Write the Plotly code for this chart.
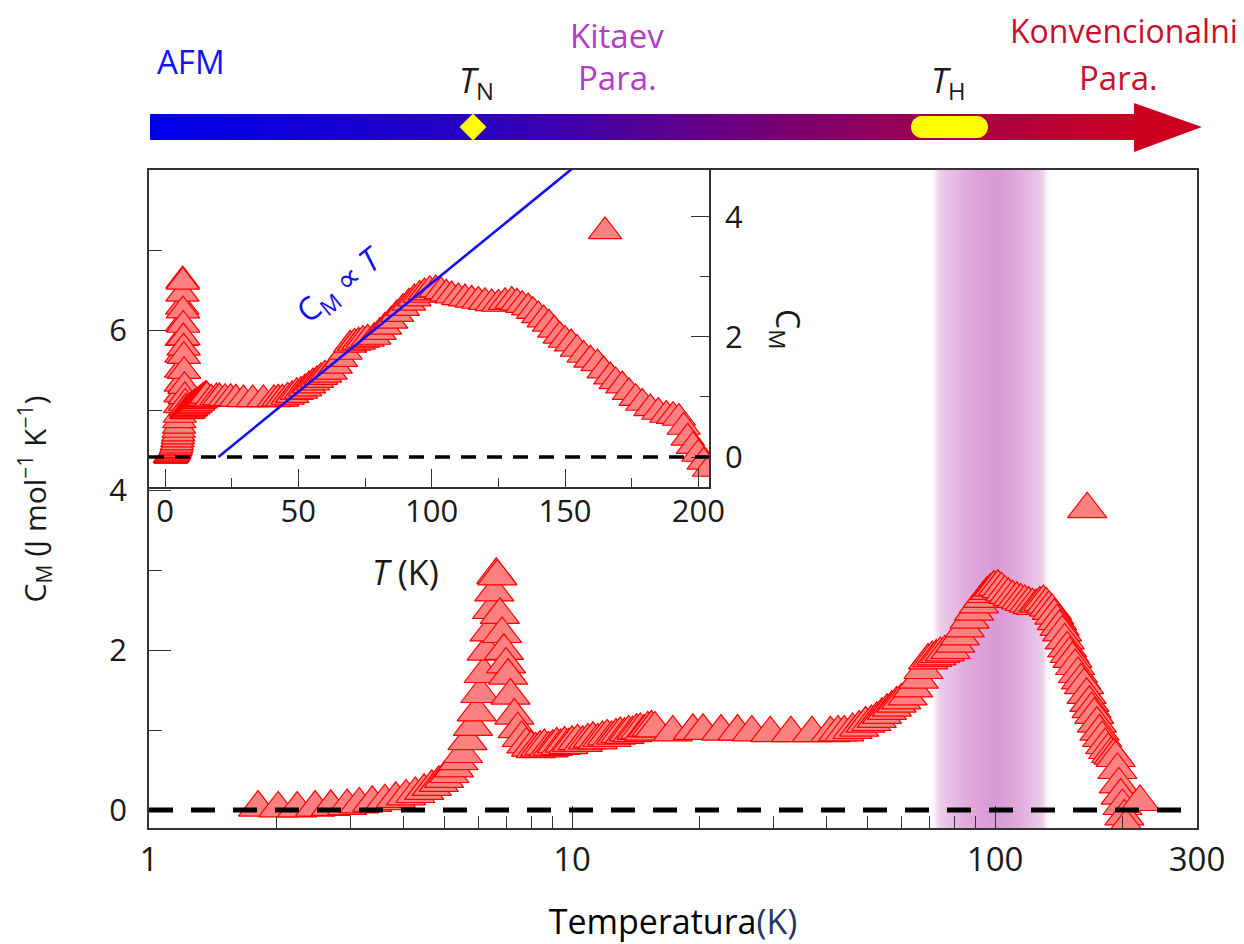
import math
import plotly.graph_objects as go

# ---------------- data ----------------
T_K = [1.81, 2.02, 2.24, 2.47, 2.69, 2.94, 3.14, 3.37, 3.61, 3.83,
       4.05, 4.26, 4.47, 4.66, 4.84, 4.98, 5.13, 5.26, 5.39, 5.52,
       5.66, 5.83, 5.95, 6.07, 6.18, 6.28, 6.38, 6.47, 6.55, 6.62, 6.66,
       6.75, 6.83, 6.90, 6.98, 7.06, 7.15, 7.30, 7.44, 7.60, 7.80, 8.00,
       8.2, 8.4, 8.6, 8.8, 9.0, 9.2, 9.4, 9.6, 9.8, 10.0,
       10.3, 10.6, 10.9, 11.2, 11.5, 11.8, 12.1, 12.4, 12.7, 13.0,
       13.3, 13.6, 13.9, 14.2, 14.5, 14.8, 15.1, 15.4, 15.7,
       17.3, 19.3, 20.4, 22.5, 24.6, 26.6, 29.4, 32.9, 36.9, 40.8,
       42.5, 44.0, 46.0, 47.7, 49.4, 51.0, 52.5, 54.0, 55.5, 57.0,
       58.5, 60.0, 62.1, 64.0, 66.0, 67.7, 69.4, 71.0, 72.6, 74.2,
       76.0, 78.5, 80.5, 82.5, 84.8, 87.0, 89.2, 91.5, 93.5, 95.5,
       97.3, 99.3, 101.5, 103.5, 105.5, 107.5, 110.0, 112.5, 115.0, 117.5,
       120.0, 122.5, 125.0, 127.5, 130.0, 132.0, 134.0, 136.2, 138.0, 140.0,
       142.0, 144.0, 146.0, 148.0, 150.0, 152.3, 154.5, 157.0, 159.5, 162.2,
       164.5, 167.0, 169.0, 171.5, 174.0, 176.5, 179.0, 182.0, 185.0, 188.0,
       190.5, 192.7, 194.5, 196.0, 198.0, 200.0, 202.0, 204.0,
       165.0, 220.0]
C_M = [0.03, 0.02, 0.02, 0.03, 0.04, 0.05, 0.07, 0.09, 0.11, 0.14,
       0.17, 0.20, 0.24, 0.29, 0.34, 0.39, 0.45, 0.52, 0.61, 0.70,
       0.86, 1.04, 1.22, 1.45, 1.70, 1.98, 2.22, 2.50, 2.72, 2.94, 2.92,
       2.44, 2.20, 1.99, 1.82, 1.68, 1.43, 1.18, 1.01, 0.90, 0.82, 0.78,
       0.76, 0.78, 0.80, 0.77, 0.79, 0.82, 0.80, 0.83, 0.81, 0.84,
       0.86, 0.84, 0.87, 0.89, 0.87, 0.90, 0.92, 0.90, 0.93, 0.95,
       0.94, 0.97, 0.96, 0.99, 1.00, 0.98, 1.02, 1.03, 1.02,
       0.97, 0.99, 0.99, 0.98, 0.98, 0.97, 0.96, 0.96, 0.96, 0.96,
       0.97, 0.97, 1.00, 1.03, 1.08, 1.10, 1.14, 1.19, 1.24, 1.28,
       1.33, 1.37, 1.42, 1.52, 1.63, 1.75, 1.87, 1.90, 1.92, 1.95,
       1.97, 2.00, 2.08, 2.17, 2.27, 2.38, 2.48, 2.57, 2.64, 2.70,
       2.74, 2.78, 2.79, 2.76, 2.72, 2.69, 2.66, 2.64, 2.62, 2.60,
       2.58, 2.56, 2.55, 2.58, 2.60, 2.57, 2.53, 2.49, 2.43, 2.36,
       2.29, 2.22, 2.12, 2.02, 1.95, 1.89, 1.80, 1.70, 1.62, 1.56,
       1.44, 1.34, 1.26, 1.19, 1.08, 0.98, 0.90, 0.81, 0.75, 0.70,
       0.68, 0.65, 0.50, 0.32, 0.18, 0.05, -0.08, -0.20,
       3.76, 0.10]
assert len(T_K) == len(C_M)

fit_T = [20.0, 160.0]          # C_M proportional to T guide line
fit_C = [0.0, 5.07]

main_xticks = [1, 10, 100, 300]
main_xminor = [2, 3, 4, 5, 6, 7, 8, 9, 20, 30, 40, 50, 60, 70, 80, 90, 200]
main_yticks = [0, 2, 4, 6]
main_yminor = [1, 3, 5, 7]
inset_xticks = [0, 50, 100, 150, 200]
inset_xminor = [25, 75, 125, 175]
inset_yticks = [0, 2, 4]
inset_yminor = [1, 3]

T_H_band = [71.0, 100.0, 134.0]   # shaded region (low edge, centre, high edge)

# ---------------- geometry helpers ----------------
# page is drawn with an 8px body margin, so the figure is 8px smaller
OFF = 8
W, H = 1244 - OFF, 944 - OFF
L, R, TOP, BOT = 149, 1197, 170, 828   # plot area in page pixels
XMAX = math.log10(300)


def px(x):
    return (x - L) / (R - L)


def py(y):
    return (BOT - y) / (BOT - TOP)


FONT = "Open Sans"
INK = "#1a1a1a"
AX = "#333333"

fig = go.Figure()

marker_main = dict(symbol="triangle-up", size=34, color="#FF8080",
                   line=dict(color="#FF0000", width=1.2))
marker_inset = dict(symbol="triangle-up", size=29, color="#FF8080",
                    line=dict(color="#FF0000", width=1.2))

fig.add_trace(go.Scatter(x=T_K, y=C_M, mode="markers", marker=marker_main,
                         xaxis="x", yaxis="y", showlegend=False))
fig.add_trace(go.Scatter(x=T_K, y=C_M, mode="markers", marker=marker_inset,
                         xaxis="x2", yaxis="y2", showlegend=False))
fig.add_trace(go.Scatter(x=fit_T, y=fit_C, mode="lines",
                         line=dict(color="#1010F0", width=2.6),
                         xaxis="x2", yaxis="y2", showlegend=False))

shapes = []

# ---- shaded T_H band (gradient) ----
ul, uc, ur = [math.log10(v) for v in T_H_band]
NB = 90
c_center = (218, 155, 213)
for i in range(NB):
    u0 = ul + (ur - ul) * i / NB
    u1 = ul + (ur - ul) * (i + 1) / NB
    um = 0.5 * (u0 + u1)
    if um < uc:
        d = (uc - um) / (uc - ul)
    else:
        d = (um - uc) / (ur - uc)
    inten = (1 - 0.6 * d ** 1.5) * min(1.0, (1 - d) / 0.12)
    inten = max(0.0, min(1.0, inten))
    col = tuple(int(round(255 - (255 - c) * inten)) for c in c_center)
    shapes.append(dict(type="rect", xref="paper", yref="paper",
                       x0=u0 / XMAX, x1=u1 / XMAX + 0.0008, y0=0, y1=1,
                       fillcolor="rgb(%d,%d,%d)" % col, line=dict(width=0),
                       layer="below"))

# ---- dashed zero lines ----
shapes.append(dict(type="line", xref="paper", yref="y", x0=0, x1=1, y0=0, y1=0,
                   line=dict(color="black", width=5, dash="24px,18px"),
                   layer="above"))
shapes.append(dict(type="line", xref="x2 domain", yref="y2", x0=0, x1=1, y0=0, y1=0,
                   line=dict(color="black", width=3.5, dash="15px,11px"),
                   layer="above"))

# ---- gradient arrow on top ----
stops = [(0.0, (0, 0, 235)), (0.33, (40, 0, 195)), (0.6, (110, 0, 125)),
         (0.82, (165, 0, 70)), (1.0, (205, 0, 35))]


def grad(t):
    for (t0, c0), (t1, c1) in zip(stops[:-1], stops[1:]):
        if t <= t1:
            f = (t - t0) / (t1 - t0)
            return tuple(int(round(a + (b - a) * f)) for a, b in zip(c0, c1))
    return stops[-1][1]


BX0, BX1, BY0, BY1 = 150, 1136, 114, 140
NS = 140
dx = (BX1 - BX0) / NS
for i in range(NS):
    x0 = BX0 + i * dx
    col = grad((i + 0.5) / NS)
    shapes.append(dict(type="rect", xref="paper", yref="paper",
                       x0=px(x0), x1=px(x0 + dx + 0.8), y0=py(BY1), y1=py(BY0),
                       fillcolor="rgb(%d,%d,%d)" % col, line=dict(width=0),
                       layer="above"))
shapes.append(dict(type="path", xref="paper", yref="paper",
                   path="M %f,%f L %f,%f L %f,%f Z" % (px(1134), py(103), px(1202), py(127),
                                                       px(1134), py(152)),
                   fillcolor="rgb(206,0,32)", line=dict(width=0), layer="above"))

# yellow diamond (T_N)
dcx, dcy, dh = 473, 127, 13.5
shapes.append(dict(type="path", xref="paper", yref="paper",
                   path="M %f,%f L %f,%f L %f,%f L %f,%f Z" % (
                       px(dcx), py(dcy - dh), px(dcx + dh), py(dcy),
                       px(dcx), py(dcy + dh), px(dcx - dh), py(dcy)),
                   fillcolor="#FFFF00", line=dict(width=0), layer="above"))


# yellow pill (T_H)
def rounded_rect(x0, y0, x1, y1, r):
    k = 0.5523 * r
    pts = []
    pts.append("M %f,%f" % (px(x0 + r), py(y0)))
    pts.append("L %f,%f" % (px(x1 - r), py(y0)))
    pts.append("C %f,%f %f,%f %f,%f" % (px(x1 - r + k), py(y0), px(x1), py(y0 + r - k), px(x1), py(y0 + r)))
    pts.append("L %f,%f" % (px(x1), py(y1 - r)))
    pts.append("C %f,%f %f,%f %f,%f" % (px(x1), py(y1 - r + k), px(x1 - r + k), py(y1), px(x1 - r), py(y1)))
    pts.append("L %f,%f" % (px(x0 + r), py(y1)))
    pts.append("C %f,%f %f,%f %f,%f" % (px(x0 + r - k), py(y1), px(x0), py(y1 - r + k), px(x0), py(y1 - r)))
    pts.append("L %f,%f" % (px(x0), py(y0 + r)))
    pts.append("C %f,%f %f,%f %f,%f" % (px(x0), py(y0 + r - k), px(x0 + r - k), py(y0), px(x0 + r), py(y0)))
    pts.append("Z")
    return " ".join(pts)


shapes.append(dict(type="path", xref="paper", yref="paper",
                   path=rounded_rect(911, 116, 988, 138, 11),
                   fillcolor="#FFFF00", line=dict(width=0), layer="above"))

# ---------------- annotations ----------------
ann = []


def text(x, y, s, size, color=INK, angle=0, xanchor="center"):
    ann.append(dict(x=px(x), y=py(y), xref="paper", yref="paper", text=s,
                    showarrow=False, textangle=angle, xanchor=xanchor, yanchor="middle",
                    font=dict(family=FONT, size=size, color=color)))


text(191, 62, "AFM", 33, "rgb(20,20,240)")
text(617, 36, "Kitaev", 33, "#B23CC4")
text(617, 78, "Para.", 33, "#B23CC4")
text(1240, 31, "Konvencionalni", 32, "#C8102E", xanchor="right")
text(1118, 77, "Para.", 33, "#C8102E")
text(476, 82, "<i>T</i><sub>N</sub>", 34)
text(948, 82, "<i>T</i><sub>H</sub>", 34)
text(340, 286, "C<sub>M</sub> ∝ <i>T</i>", 32, "#1010F0", angle=-39)
text(786, 329, "C<sub>M</sub>", 32, angle=90)
text(405, 572, "<i>T</i> (K)", 34)

fig.update_layout(
    width=W, height=H,
    margin=dict(l=L - OFF, r=W - (R - OFF), t=TOP - OFF, b=H - (BOT - OFF),
                autoexpand=False),
    paper_bgcolor="white", plot_bgcolor="rgba(0,0,0,0)",
    font=dict(family=FONT, color=INK),
    showlegend=False,
    shapes=shapes,
    annotations=ann,
    xaxis=dict(type="log", range=[0, XMAX], domain=[0, 1],
               tickvals=main_xticks, ticktext=[str(v) for v in main_xticks],
               ticks="inside", ticklen=22, tickwidth=1.3, tickcolor=AX,
               minor=dict(tickvals=main_xminor, ticks="inside", ticklen=12,
                          tickwidth=1.1, tickcolor=AX),
               showline=True, linecolor=AX, linewidth=1.6, mirror=True,
               showgrid=False, zeroline=False,
               tickfont=dict(size=33, color=INK), ticklabelstandoff=2,
               title=dict(text="Temperatura<span style='color:#24355f'>(K)</span>",
                          font=dict(size=34, color="black"), standoff=32)),
    yaxis=dict(range=[-0.225, 8.0], domain=[0, 1],
               tickvals=main_yticks, ticks="inside", ticklen=22, tickwidth=1.3,
               tickcolor=AX,
               minor=dict(tickvals=main_yminor, ticks="inside", ticklen=13,
                          tickwidth=1.1, tickcolor=AX),
               showline=True, linecolor=AX, linewidth=1.6, mirror=True,
               showgrid=False, zeroline=False,
               tickfont=dict(size=31, color=INK), ticklabelstandoff=14,
               title=dict(text="C<sub>M</sub> (J mol<sup>−1</sup> K<sup>−1</sup>)",
                          font=dict(size=30, color=INK), standoff=54)),
    xaxis2=dict(range=[-6, 204], domain=[0, px(709)], anchor="y2",
                tickvals=inset_xticks, ticks="inside", ticklen=18, tickwidth=1.3,
                tickcolor=AX,
                minor=dict(tickvals=inset_xminor, ticks="inside", ticklen=9,
                           tickwidth=1.1, tickcolor=AX),
                showline=True, linecolor=AX, linewidth=1.6,
                showgrid=False, zeroline=False,
                tickfont=dict(size=31, color=INK), ticklabelstandoff=-4),
    yaxis2=dict(range=[-0.5, 4.783], domain=[py(487), 1], anchor="x2", side="right",
                tickvals=inset_yticks, ticks="inside", ticklen=18, tickwidth=1.3,
                tickcolor=AX,
                minor=dict(tickvals=inset_yminor, ticks="inside", ticklen=9,
                           tickwidth=1.1, tickcolor=AX),
                showline=True, linecolor=AX, linewidth=1.6,
                showgrid=False, zeroline=False,
                tickfont=dict(size=31, color=INK), ticklabelstandoff=8),
)

fig.write_html("out.html")
